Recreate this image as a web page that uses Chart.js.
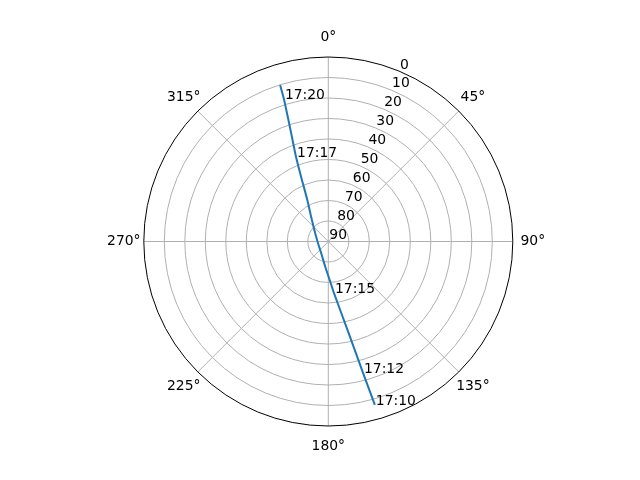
<!DOCTYPE html>
<html>
<head>
<meta charset="utf-8">
<script src="https://cdn.jsdelivr.net/npm/chart.js@4"></script>
<style>
  html, body { margin: 0; padding: 0; background: #fff; }
  canvas { display: block; }
</style>
</head>
<body>
<canvas id="grafico" width="640" height="480"></canvas>
<script>
// pass track (azimuth deg, elevation deg)
const trackAz = [164.1, 165.2, 167.5, 173.7, 177.9, 186.7, 206.0, 267.3, 309.4, 326.4, 333.2, 337.0, 339.1, 341.4, 342.7, 342.9];
const trackEl = [7.1, 23.7, 44.3, 64.7, 71.2, 77.5, 82.7, 84.8, 81.2, 74.5, 67.3, 56.6, 45.9, 31.6, 17.2, 10.1];

// time marks along the track
const markTimes = ['17:10', '17:12', '17:15', '17:17', '17:20'];
const markAz = [164.1, 165.2, 173.7, 339.1, 342.7];
const markEl = [7.1, 23.7, 64.7, 45.9, 17.2];

// axis ticks
const thetaTicks = [0, 45, 90, 135, 180, 225, 270, 315];
const elevTicks = [0, 10, 20, 30, 40, 50, 60, 70, 80, 90];

const FONT = '13.9px "DejaVu Sans"';

// azimuth clockwise from north, elevation 90 at centre
function toXY(az, el) {
    const r = 90 - el;
    const a = az * Math.PI / 180;
    return { x: r * Math.sin(a), y: r * Math.cos(a) };
}

const polarGrid = {
    id: 'polarGrid',
    beforeDatasetsDraw(chart) {
        const ctx = chart.ctx;
        const xs = chart.scales.x, ys = chart.scales.y;
        const cx = xs.getPixelForValue(0), cy = ys.getPixelForValue(0);
        const k = xs.getPixelForValue(1) - cx;
        const R = 90 * k;
        ctx.save();
        ctx.strokeStyle = '#b0b0b0';
        ctx.lineWidth = 1;
        // rings
        elevTicks.forEach(el => {
            const r = (90 - el) * k;
            if (r <= 0 || el === 0) return;
            ctx.beginPath();
            ctx.arc(cx, cy, r, 0, Math.PI * 2);
            ctx.stroke();
        });
        // spokes
        thetaTicks.forEach(t => {
            const p = toXY(t, 0);
            ctx.beginPath();
            ctx.moveTo(cx, cy);
            ctx.lineTo(xs.getPixelForValue(p.x), ys.getPixelForValue(p.y));
            ctx.stroke();
        });
        // outer spine
        ctx.strokeStyle = '#000';
        ctx.beginPath();
        ctx.arc(cx, cy, R, 0, Math.PI * 2);
        ctx.stroke();

        ctx.fillStyle = '#000';
        ctx.font = FONT;
        // theta labels
        ctx.textAlign = 'center';
        ctx.textBaseline = 'middle';
        thetaTicks.forEach(t => {
            const a = t * Math.PI / 180;
            const d = R + 20;
            ctx.fillText(t + '°', cx + d * Math.sin(a), cy - d * Math.cos(a));
        });
        // radial labels at 22.5°
        ctx.textAlign = 'left';
        ctx.textBaseline = 'alphabetic';
        const ra = 22.5 * Math.PI / 180;
        elevTicks.forEach(el => {
            const r = (90 - el) * k;
            ctx.fillText(String(el), cx + r * Math.sin(ra) + 1, cy - r * Math.cos(ra) - 2.5);
        });
        ctx.restore();
    },
    afterDatasetsDraw(chart) {
        const ctx = chart.ctx;
        const meta = chart.getDatasetMeta(1);
        ctx.save();
        ctx.fillStyle = '#000';
        ctx.font = FONT;
        ctx.textAlign = 'left';
        ctx.textBaseline = 'alphabetic';
        meta.data.forEach((pt, i) => {
            ctx.fillText(markTimes[i], pt.x + 1, pt.y);
        });
        ctx.restore();
    }
};

new Chart(document.getElementById('grafico'), {
    type: 'scatter',
    data: {
        datasets: [{
            data: trackAz.map((az, i) => toXY(az, trackEl[i])),
            showLine: true,
            borderColor: '#1f77b4',
            borderWidth: 2,
            pointRadius: 0,
            tension: 0.2
        }, {
            data: markAz.map((az, i) => toXY(az, markEl[i])),
            showLine: false,
            pointRadius: 0
        }]
    },
    options: {
        responsive: false,
        animation: false,
        devicePixelRatio: 1,
        layout: { padding: { left: 143.8, right: 127.2, top: 57, bottom: 54 } },
        plugins: { legend: { display: false }, tooltip: { enabled: false } },
        scales: {
            x: { type: 'linear', min: -90, max: 90, display: false },
            y: { type: 'linear', min: -90, max: 90, display: false }
        }
    },
    plugins: [polarGrid]
});
</script>
</body>
</html>
